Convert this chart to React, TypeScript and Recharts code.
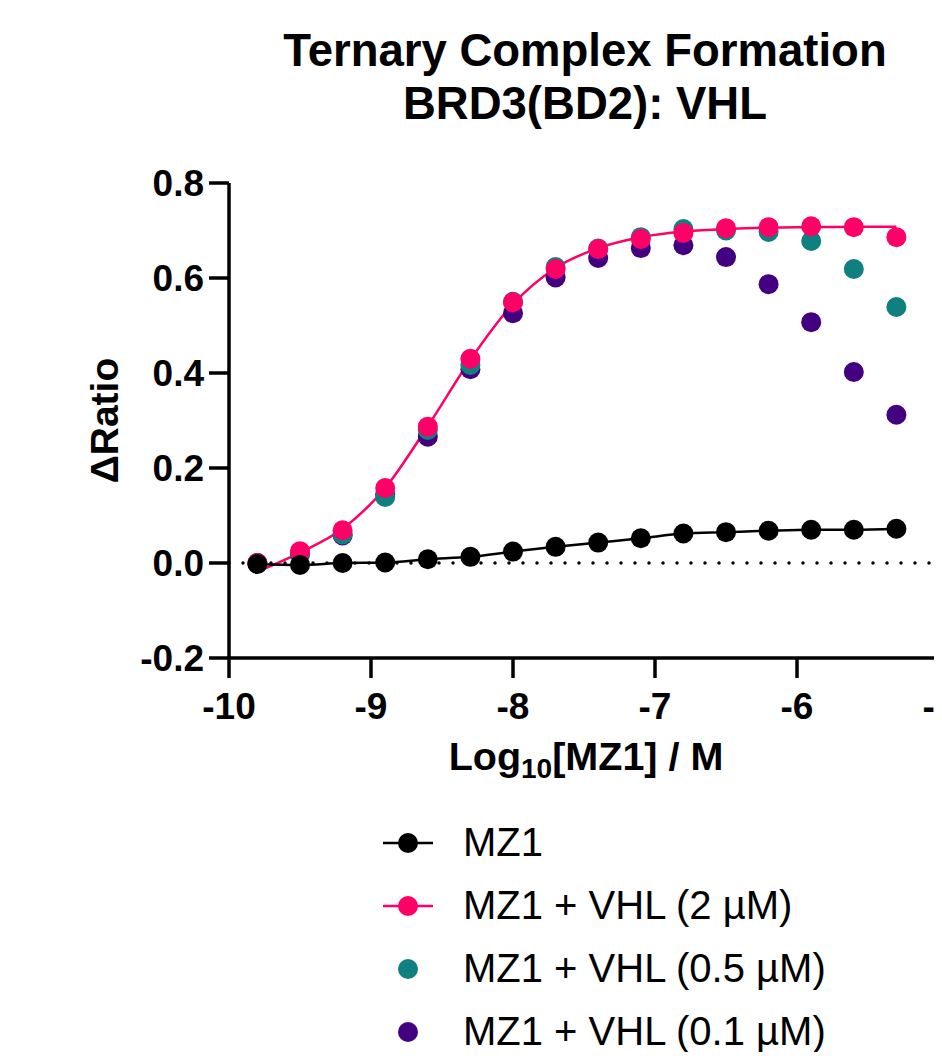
import React from "react"
import {
  ComposedChart,
  Line,
  XAxis,
  YAxis,
  ReferenceLine,
} from "recharts"

// log10 [MZ1] (M), 2-fold dilution series
const concentrations = [
  -9.8, -9.5, -9.2, -8.9, -8.6, -8.3, -8.0, -7.7, -7.4, -7.1, -6.8, -6.5, -6.2,
  -5.9, -5.6, -5.3,
]

const mz1 = [
  -0.002, -0.004, 0.0, 0.001, 0.008, 0.013, 0.024, 0.034, 0.043, 0.052, 0.062,
  0.065, 0.068, 0.07, 0.07, 0.072,
]
const vhl2 = [
  0.0, 0.025, 0.069, 0.158, 0.287, 0.43, 0.549, 0.619, 0.661, 0.682, 0.695,
  0.705, 0.707, 0.709, 0.707, 0.686,
]
const vhl2Fit = [
  -0.018, 0.022, 0.072, 0.158, 0.288, 0.428, 0.545, 0.621, 0.663, 0.686, 0.698,
  0.703, 0.706, 0.707, 0.708, 0.708,
]
const vhl05 = [
  0.0, 0.02, 0.06, 0.139, 0.28, 0.417, 0.55, 0.623, 0.662, 0.686, 0.703, 0.7,
  0.697, 0.678, 0.619, 0.539,
]
const vhl01 = [
  0.0, 0.018, 0.058, 0.145, 0.266, 0.408, 0.526, 0.601, 0.642, 0.663, 0.669,
  0.644, 0.587, 0.507, 0.402, 0.312,
]

const xTicks = [-10, -9, -8, -7, -6, -5]
const yTicks = [-0.2, 0.0, 0.2, 0.4, 0.6, 0.8]

const BLACK = "#000000"
const PINK = "#FF0066"
const TEAL = "#107F80"
const PURPLE = "#430080"

const legendItems = [
  { name: "MZ1", color: BLACK, line: true },
  { name: "MZ1 + VHL (2 µM)", color: PINK, line: true },
  { name: "MZ1 + VHL (0.5 µM)", color: TEAL, line: false },
  { name: "MZ1 + VHL (0.1 µM)", color: PURPLE, line: false },
]

const data = concentrations.map((x, i) => ({
  x,
  mz1: mz1[i],
  vhl2: vhl2[i],
  vhl2Fit: vhl2Fit[i],
  vhl05: vhl05[i],
  vhl01: vhl01[i],
}))

const FONT = "'Liberation Sans', Arial, Helvetica, sans-serif"
const tickStyle = { fill: "#000", fontSize: 37, fontWeight: 700, fontFamily: FONT }
const axisStroke = { stroke: "#000", strokeWidth: 3.5 }

function XLabel({ viewBox }: any) {
  const cx = viewBox.x + viewBox.width / 2 + 2
  const y = viewBox.y + 112
  return (
    <text
      x={cx}
      y={y}
      textAnchor="middle"
      fontFamily={FONT}
      fontWeight={700}
      fontSize={39.5}
      fill="#000"
    >
      <tspan>Log</tspan>
      <tspan dy={8} fontSize={28}>10</tspan>
      <tspan dy={-8}>[MZ1] / M</tspan>
    </text>
  )
}

function YLabel({ viewBox }: any) {
  const cy = viewBox.y + viewBox.height / 2
  const x = 110
  return (
    <text
      x={x}
      y={cy}
      transform={`rotate(-90, ${x}, ${cy})`}
      textAnchor="middle"
      fontFamily={FONT}
      fontWeight={700}
      fontSize={39}
      fill="#000"
    >
      ΔRatio
    </text>
  )
}

export default function App() {
  return (
    <div
      style={{
        position: "relative",
        width: 934,
        height: 1052,
        marginBottom: -8,
        overflow: "hidden",
        fontFamily: FONT,
      }}
    >
      <div
        style={{
          position: "absolute",
          left: 577,
          top: 16,
          transform: "translateX(-50%)",
          whiteSpace: "nowrap",
          textAlign: "center",
          fontSize: 45.5,
          fontWeight: 700,
          lineHeight: "53px",
          color: "#000",
        }}
      >
        <div>Ternary Complex Formation</div>
        <div>BRD3(BD2): VHL</div>
      </div>

      <ComposedChart
        width={1000}
        height={1052}
        data={data}
        margin={{ top: 175, right: 69, bottom: 282, left: 0 }}
      >
        <XAxis
          type="number"
          dataKey="x"
          domain={[-10, -5]}
          ticks={xTicks}
          interval={0}
          allowDataOverflow
          height={120}
          tickSize={20}
          tickMargin={15}
          axisLine={axisStroke}
          tickLine={axisStroke}
          tick={tickStyle}
          label={XLabel}
        />
        <YAxis
          type="number"
          domain={[-0.2, 0.8]}
          ticks={yTicks}
          interval={0}
          allowDataOverflow
          width={221}
          tickSize={20}
          tickMargin={5}
          axisLine={axisStroke}
          tickLine={axisStroke}
          tick={tickStyle}
          tickFormatter={(v: number) => v.toFixed(1)}
          label={YLabel}
        />
        <ReferenceLine
          y={0}
          stroke="#000"
          strokeWidth={3.5}
          strokeDasharray="0 14"
          strokeLinecap="round"
        />
        <Line
          dataKey="vhl01"
          stroke="none"
          isAnimationActive={false}
          activeDot={false}
          dot={{ r: 10, fill: PURPLE, stroke: "none" }}
        />
        <Line
          dataKey="vhl05"
          stroke="none"
          isAnimationActive={false}
          activeDot={false}
          dot={{ r: 10, fill: TEAL, stroke: "none" }}
        />
        <Line
          dataKey="vhl2Fit"
          type="monotone"
          stroke={PINK}
          strokeWidth={2.5}
          isAnimationActive={false}
          activeDot={false}
          dot={false}
        />
        <Line
          dataKey="vhl2"
          stroke="none"
          isAnimationActive={false}
          activeDot={false}
          dot={{ r: 10, fill: PINK, stroke: "none" }}
        />
        <Line
          dataKey="mz1"
          type="monotone"
          stroke={BLACK}
          strokeWidth={2.5}
          isAnimationActive={false}
          activeDot={false}
          dot={{ r: 10, fill: BLACK, stroke: "none" }}
        />
      </ComposedChart>

      <div style={{ position: "absolute", left: 375, top: 803 }}>
        {legendItems.map((item) => (
          <div
            key={item.name}
            style={{ display: "flex", alignItems: "center", height: 63 }}
          >
            <svg width={50} height={26} style={{ display: "block" }}>
              {item.line && (
                <line x1={0} y1={13} x2={50} y2={13} stroke={item.color} strokeWidth={2.5} />
              )}
              <circle cx={25} cy={13} r={10} fill={item.color} />
            </svg>
            <span
              style={{
                marginLeft: 30,
                fontSize: 40,
                color: "#000",
                whiteSpace: "nowrap",
              }}
            >
              {item.name}
            </span>
          </div>
        ))}
      </div>
    </div>
  )
}
